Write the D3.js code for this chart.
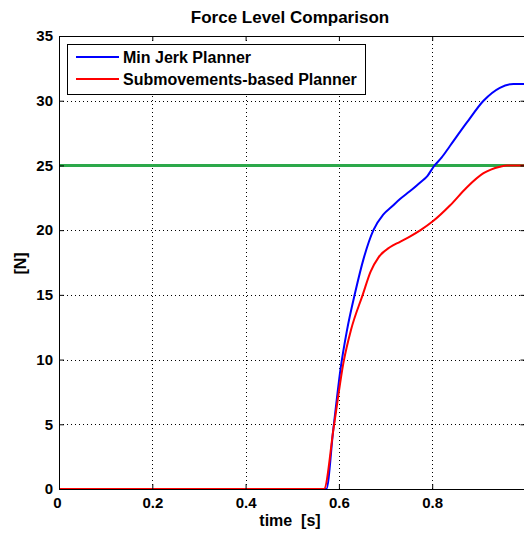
<!DOCTYPE html>
<html>
<head>
<meta charset="utf-8">
<script src="https://cdn.jsdelivr.net/npm/d3@7"></script>
<style>
  html, body { margin: 0; padding: 0; background: #fff; }
  svg { display: block; }
  text { font-family: Arial, "Liberation Sans", Helvetica, sans-serif; font-weight: bold; fill: #000; }
</style>
</head>
<body>
<script>
// Force traces over time (s, N)
const minJerkTime  = [0, 0.2, 0.4, 0.55, 0.565, 0.573, 0.588, 0.604, 0.617, 0.635, 0.653, 0.674, 0.695, 0.713, 0.731, 0.752, 0.775, 0.790, 0.803, 0.820, 0.838, 0.874, 0.910, 0.945, 0.974, 1.0];
const minJerkForce = [0, 0,   0,   0,    0,     0,     4.6,   9.4,   12.2,  15.2,  17.8,  20.0,  21.2,  21.8,  22.4,  23.0,  23.7,  24.2,  24.9,  25.6,  26.5,  28.3,  30.0,  31.0,  31.3,  31.3];

const subTime  = [0, 0.2, 0.4, 0.55, 0.561, 0.568, 0.589, 0.610, 0.626, 0.651, 0.668, 0.685, 0.710, 0.731, 0.752, 0.775, 0.802, 0.838, 0.874, 0.910, 0.945, 0.960, 0.98, 1.0];
const subForce = [0, 0,   0,   0,    0,     0,     4.8,   9.8,   12.3,  15.0,  16.8,  17.9,  18.7,  19.1,  19.5,  20.0,  20.7,  21.9,  23.3,  24.4,  24.9,  25.0,  25.0, 25.0];

const limitTime  = [0, 1.0];
const limitForce = [25, 25];

const xTicks = [0, 0.2, 0.4, 0.6, 0.8];
const yTicks = [0, 5, 10, 15, 20, 25, 30, 35];

const seriesNames  = ["Min Jerk Planner", "Submovements-based Planner"];
const seriesColors = ["#0000ff", "#ff0000"];

const W = 524, H = 533;
const margin = { left: 59, top: 36, right: -1.5, bottom: 44 };

const svg = d3.select("body").append("svg").attr("width", W).attr("height", H);

const x = d3.scaleLinear().domain([0, 1]).range([margin.left, W - margin.right]);
const y = d3.scaleLinear().domain([0, 35]).range([H - margin.bottom, margin.top]);

const x0 = x.range()[0], x1 = x.range()[1], y0 = y.range()[0], y1 = y.range()[1];

// Dotted grid
const grid = svg.append("g").attr("stroke", "#000").attr("stroke-width", 1).attr("stroke-dasharray", "1,3");
grid.selectAll(".gx").data(xTicks.slice(1)).enter().append("line")
  .attr("x1", d => Math.round(x(d)) + 0.5).attr("x2", d => Math.round(x(d)) + 0.5)
  .attr("y1", y1).attr("y2", y0);
grid.selectAll(".gy").data(yTicks.slice(1, -1)).enter().append("line")
  .attr("y1", d => Math.round(y(d)) + 0.5).attr("y2", d => Math.round(y(d)) + 0.5)
  .attr("x1", x0).attr("x2", x1);

// Series lines
const line = d3.line().x(d => x(d[0])).y(d => y(d[1])).curve(d3.curveMonotoneX);
const zip = (a, b) => a.map((v, i) => [v, b[i]]);

svg.append("path").datum(zip(limitTime, limitForce)).attr("d", line)
  .attr("fill", "none").attr("stroke", "#2ca84a").attr("stroke-width", 3);
svg.append("path").datum(zip(minJerkTime, minJerkForce)).attr("d", line)
  .attr("fill", "none").attr("stroke", seriesColors[0]).attr("stroke-width", 2);
svg.append("path").datum(zip(subTime, subForce)).attr("d", line)
  .attr("fill", "none").attr("stroke", seriesColors[1]).attr("stroke-width", 2);

// Axes (box with inward ticks)
const tickLen = 5;
const xAxisB = d3.axisBottom(x).tickValues(xTicks).tickSizeInner(-tickLen).tickSizeOuter(0).tickPadding(8)
  .tickFormat(d => d === 0 ? "0" : d3.format(".1f")(d));
const gB = svg.append("g").attr("transform", `translate(0,${y0})`).call(xAxisB);
const xAxisT = d3.axisTop(x).tickValues(xTicks).tickSizeInner(-tickLen).tickSizeOuter(0).tickFormat("");
const gT = svg.append("g").attr("transform", `translate(0,${y1})`).call(xAxisT);
const yAxisL = d3.axisLeft(y).tickValues(yTicks).tickSizeInner(-tickLen).tickSizeOuter(0).tickPadding(6);
const gL = svg.append("g").attr("transform", `translate(${x0},0)`).call(yAxisL);
const yAxisR = d3.axisRight(y).tickValues(yTicks).tickSizeInner(-tickLen).tickSizeOuter(0).tickFormat("");
const gR = svg.append("g").attr("transform", `translate(${x1},0)`).call(yAxisR);

[gB, gT, gL, gR].forEach(g => {
  g.selectAll("path.domain").attr("stroke", "#000").attr("stroke-width", 1);
  g.selectAll(".tick line").attr("stroke", "#000");
  g.selectAll("text").style("font-size", "15px").style("font-weight", "bold")
    .style("font-family", "Arial, 'Liberation Sans', sans-serif").attr("fill", "#000");
});
gB.selectAll(".tick").filter(d => d === 0).select("text").attr("dx", "-2");

// Title and axis labels
svg.append("text").attr("x", 290).attr("y", 23).attr("text-anchor", "middle")
  .style("font-size", "17px").text("Force Level Comparison");
svg.append("text").attr("x", 290).attr("y", 526).attr("text-anchor", "middle")
  .style("font-size", "16px").attr("xml:space", "preserve").style("white-space", "pre").text("time  [s]");
svg.append("text").attr("transform", `translate(26,263.5) rotate(-90)`)
  .attr("text-anchor", "middle").style("font-size", "16px").text("[N]");

// Legend
const lg = svg.append("g");
lg.append("rect").attr("x", 67.5).attr("y", 44.5).attr("width", 298).attr("height", 50)
  .attr("fill", "#fff").attr("stroke", "#000").attr("stroke-width", 1);
seriesNames.forEach((name, i) => {
  const cy = 57 + i * 22;
  lg.append("line").attr("x1", 76).attr("x2", 119).attr("y1", cy).attr("y2", cy)
    .attr("stroke", seriesColors[i]).attr("stroke-width", 2);
  lg.append("text").attr("x", 123).attr("y", cy + 6).style("font-size", "16px").text(name);
});
</script>
</body>
</html>
